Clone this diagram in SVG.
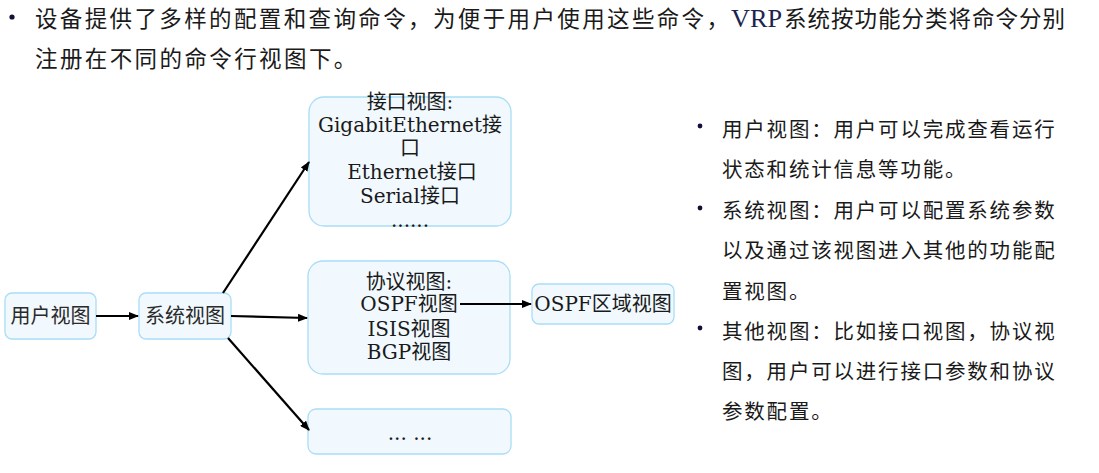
<svg xmlns="http://www.w3.org/2000/svg" width="1099" height="473" viewBox="0 0 1099 473">
<style>
.title{font-family:"Noto Sans CJK SC","Noto Sans",sans-serif;font-size:22.5px;fill:#1a1a1a}
.side{font-family:"Noto Sans CJK SC","Noto Sans",sans-serif;font-size:20.5px;fill:#1a1a1a;letter-spacing:1.8px}
.box{fill:#f1f9fe;stroke:#a8ddf5;stroke-width:1.3}
.lbl{font-family:"DejaVu Serif","Noto Sans CJK SC",serif;font-size:20px;fill:#1a1a1a;text-anchor:middle}
.cjk{font-family:"Noto Sans CJK SC",sans-serif;font-size:20px;fill:#2a2a2a;text-anchor:middle}
.edge{stroke:#000;stroke-width:2.2;fill:none;marker-end:url(#ah)}
.dot{fill:#10103a}
</style>
<defs>
<marker id="ah" markerWidth="10" markerHeight="8" refX="9" refY="4" orient="auto" markerUnits="userSpaceOnUse">
<path d="M0,0 L10,4 L0,8 Z" fill="#000"/>
</marker>
</defs>

<g id="intro">
<circle class="dot" cx="12" cy="17" r="2.6"/>
<text class="title" x="35" y="27" textLength="694" lengthAdjust="spacing">设备提供了多样的配置和查询命令，为便于用户使用这些命令，</text>
<text x="731" y="27" font-family="Liberation Serif, serif" font-size="25" fill="#1a2550" textLength="51" lengthAdjust="spacingAndGlyphs">VRP</text>
<text class="title" x="784" y="27" textLength="281" lengthAdjust="spacing">系统按功能分类将命令分别</text>
<text class="title" x="35" y="67" style="letter-spacing:2.4px">注册在不同的命令行视图下。</text>
</g>

<g id="node-user">
<rect class="box" x="5" y="293" width="91" height="46" rx="7"/>
<text class="cjk" x="50.5" y="323">用户视图</text>
</g>

<g id="node-system">
<rect class="box" x="139" y="293" width="92" height="46" rx="7"/>
<text class="cjk" x="185" y="323">系统视图</text>
</g>

<g id="node-interface">
<rect class="box" x="309" y="97" width="202" height="129" rx="15"/>
<text class="lbl" x="410" y="109">接口视图:</text>
<text class="lbl" x="410" y="132">GigabitEthernet接</text>
<text class="lbl" x="410" y="155">口</text>
<text class="lbl" x="412" y="179">Ethernet接口</text>
<text class="lbl" x="410" y="203">Serial接口</text>
<text class="lbl" x="410" y="227">......</text>
</g>

<g id="node-protocol">
<rect class="box" x="308" y="261" width="202" height="113" rx="15"/>
<text class="lbl" x="409" y="289">协议视图:</text>
<text class="lbl" x="409" y="311">OSPF视图</text>
<text class="lbl" x="409" y="336">ISIS视图</text>
<text class="lbl" x="409" y="359">BGP视图</text>
</g>

<g id="node-ospf-area">
<rect class="box" x="532" y="284" width="142" height="40" rx="7"/>
<text class="lbl" x="603" y="311">OSPF区域视图</text>
</g>

<g id="node-other">
<rect class="box" x="308" y="409" width="203" height="45" rx="8"/>
<text class="lbl" x="410" y="440">... ...</text>
</g>

<g id="connectors">
<line class="edge" x1="96" y1="316" x2="138" y2="316"/>
<line class="edge" x1="231" y1="316" x2="307" y2="318"/>
<line class="edge" x1="223" y1="293" x2="309" y2="162"/>
<line class="edge" x1="228" y1="338" x2="309" y2="430"/>
<line class="edge" x1="460" y1="304" x2="531" y2="304"/>
</g>

<g id="notes">
<circle class="dot" cx="700" cy="126" r="2.4"/>
<text class="side" x="722" y="136.5">用户视图：用户可以完成查看运行</text>
<text class="side" x="722" y="176.5">状态和统计信息等功能。</text>
<circle class="dot" cx="700" cy="208" r="2.4"/>
<text class="side" x="722" y="218">系统视图：用户可以配置系统参数</text>
<text class="side" x="722" y="258">以及通过该视图进入其他的功能配</text>
<text class="side" x="722" y="299">置视图。</text>
<circle class="dot" cx="700" cy="328" r="2.4"/>
<text class="side" x="722" y="338.5">其他视图：比如接口视图，协议视</text>
<text class="side" x="722" y="378.5">图，用户可以进行接口参数和协议</text>
<text class="side" x="722" y="419">参数配置。</text>
</g>
</svg>
